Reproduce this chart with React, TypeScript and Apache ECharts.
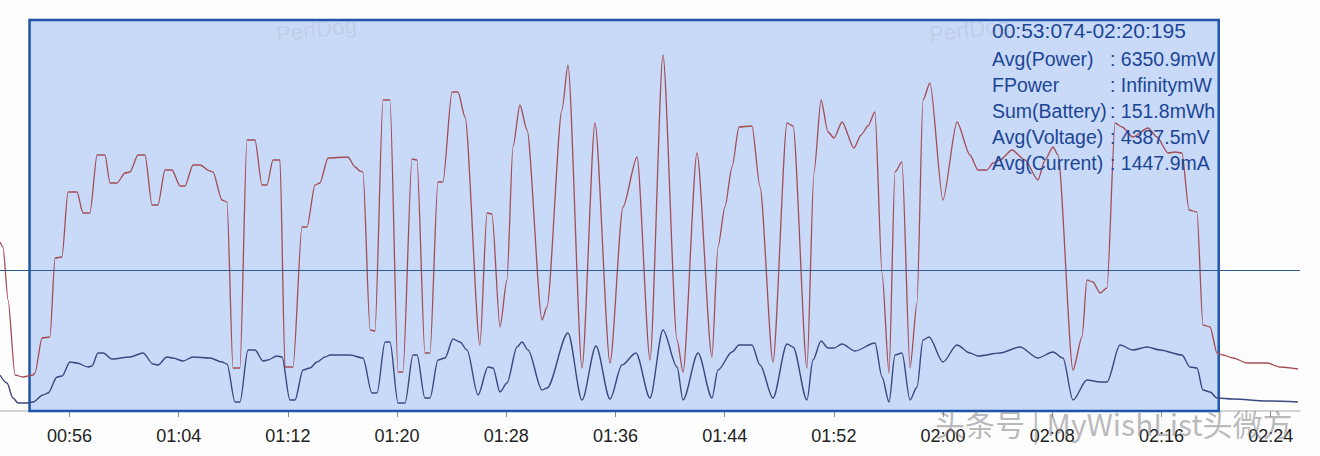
import React, { useEffect, useRef } from "react";
import * as echarts from "echarts";

// time in seconds, power in mW
const powerSeries: [number, number][] = [
  [50.91, 7605], [51.13, 7380], [51.5, 4995], [52.01, 1620], [52.59, 1530], [53.33, 1620],
  [53.47, 1710], [53.99, 3285], [54.57, 3330], [54.94, 6885], [55.45, 6930], [55.89, 9855],
  [56.55, 9855], [56.99, 8910], [57.5, 8910], [58.02, 11520], [58.6, 11520], [58.97, 10260],
  [59.48, 10260], [60.07, 10710], [60.43, 10755], [61.02, 11520], [61.53, 11520], [62.05, 9270],
  [62.48, 9270], [63.0, 10845], [63.51, 10845], [64.1, 10125], [64.46, 10125], [65.05, 11070],
  [65.56, 11070], [66.29, 10800], [66.51, 10755], [67.17, 9495], [67.54, 9405], [67.98, 1935],
  [68.49, 1935], [69.0, 12195], [69.59, 12195], [70.1, 10170], [70.47, 10170], [70.91, 11295],
  [71.42, 11295], [71.79, 1980], [72.38, 1980], [73.03, 8280], [73.4, 8280], [73.99, 10170],
  [74.35, 10260], [74.94, 11385], [76.4, 11430], [76.92, 10980], [77.28, 10800], [77.5, 10755],
  [78.02, 3645], [78.38, 3600], [78.97, 13995], [79.48, 13995], [80.07, 1755], [80.43, 1755],
  [81.09, 11340], [81.46, 11295], [82.04, 2610], [82.41, 2610], [82.99, 10305], [83.36, 10305],
  [84.02, 14355], [84.46, 14355], [84.98, 13230], [86.07, 2970], [86.59, 8910], [86.95, 8865],
  [87.54, 3780], [88.05, 5895], [88.49, 11880], [89.0, 13770], [89.52, 12645], [90.62, 4095],
  [90.98, 4680], [92.08, 13545], [92.52, 15570], [93.55, 1935], [94.5, 12960], [95.6, 2160],
  [96.55, 9180], [97.58, 11430], [98.53, 2295], [99.48, 16020], [100.51, 3195], [100.95, 1755],
  [101.97, 11610], [103.07, 2430], [103.51, 7380], [104.02, 9180], [104.54, 10980], [105.05, 12780],
  [106.0, 12825], [106.59, 10080], [107.54, 2205], [108.57, 12960], [109.01, 12825], [110.03, 1935],
  [110.54, 10710], [111.06, 13995], [111.57, 12555], [112.01, 12285], [112.6, 13005], [113.47, 11835],
  [113.99, 12420], [114.5, 12825], [115.01, 13455], [115.53, 6210], [116.04, 1710], [116.48, 10755],
  [116.99, 11205], [117.58, 1935], [118.09, 4860], [118.53, 13995], [119.04, 14760], [119.99, 9495],
  [121.02, 13005], [121.97, 11520], [122.56, 10845], [123.22, 10845], [123.66, 11160], [124.17, 11295],
  [125.05, 11745], [126.0, 11295], [126.95, 10395], [127.47, 11295], [128.05, 11880], [128.42, 11520],
  [129.52, 1845], [130.18, 3330], [130.54, 5895], [130.98, 5805], [131.5, 5310], [132.01, 5535],
  [132.6, 12960], [133.11, 12780], [133.91, 12330], [135.01, 12735], [135.67, 12330], [136.48, 11610],
  [136.99, 11655], [137.5, 11610], [138.02, 9045], [138.6, 8955], [139.04, 3870], [139.56, 3780],
  [140.07, 2610], [140.51, 2520], [141.24, 2385], [142.27, 2160], [143.73, 2160], [144.68, 1980],
  [146.0, 1890],
];

// time in seconds, current in mA
const currentSeries: [number, number][] = [
  [50.91, 1080], [51.42, 840], [51.86, 390], [52.23, 240], [52.89, 240], [53.33, 270],
  [54.06, 480], [54.43, 540], [55.09, 1020], [55.45, 1050], [56.04, 1470], [56.55, 1440],
  [57.36, 1320], [57.65, 1350], [58.09, 1740], [58.46, 1740], [59.12, 1560], [60.43, 1620],
  [61.39, 1740], [62.12, 1410], [62.48, 1380], [63.14, 1620], [63.58, 1590], [64.32, 1500],
  [65.05, 1620], [66.29, 1590], [67.17, 1470], [67.54, 1410], [68.13, 270], [68.49, 270],
  [69.08, 1830], [69.59, 1830], [70.18, 1500], [70.54, 1530], [71.2, 1650], [71.57, 1620],
  [72.15, 330], [72.52, 330], [73.11, 1230], [73.62, 1290], [74.13, 1470], [74.72, 1620],
  [75.09, 1680], [76.55, 1680], [77.5, 1590], [78.16, 540], [78.53, 540], [79.12, 2070],
  [79.48, 2070], [80.07, 240], [80.58, 240], [81.17, 1680], [81.46, 1680], [82.04, 390],
  [82.41, 390], [83.0, 1530], [83.51, 1590], [84.1, 2160], [84.61, 2070], [85.12, 1830],
  [85.93, 480], [86.66, 1320], [87.03, 1290], [87.54, 570], [88.05, 840], [88.79, 1920],
  [89.15, 2070], [89.59, 1830], [90.62, 630], [90.98, 690], [92.52, 2340], [93.55, 330],
  [94.57, 1950], [95.6, 360], [96.48, 1380], [97.5, 1740], [98.53, 390], [99.48, 2430],
  [100.51, 1320], [100.95, 330], [102.05, 1740], [103.07, 390], [103.51, 1230], [104.54, 1770],
  [105.05, 1980], [106.0, 1980], [106.59, 1380], [107.54, 390], [108.57, 2010], [109.01, 1920],
  [110.03, 330], [110.47, 1530], [111.06, 2100], [111.57, 1890], [112.01, 1890], [112.6, 2010],
  [113.55, 1800], [115.01, 2040], [115.53, 1020], [116.04, 270], [116.48, 1680], [116.99, 1740],
  [117.58, 330], [118.09, 720], [118.53, 2130], [118.97, 2220], [119.99, 1470], [121.02, 1980],
  [121.97, 1740], [122.56, 1650], [124.17, 1740], [125.63, 1920], [126.95, 1590], [128.05, 1770],
  [128.78, 1590], [129.52, 330], [130.54, 930], [131.5, 870], [132.01, 870], [132.96, 1980],
  [133.91, 1830], [134.94, 1920], [135.89, 1830], [137.5, 1680], [138.09, 1320], [138.6, 1290],
  [139.04, 630], [139.56, 570], [140.07, 390], [141.24, 360], [143.73, 300], [146.0, 270],
];

const tickSeconds = [56, 64, 72, 80, 88, 96, 104, 112, 120, 128, 136, 144];
const selectionStart = 53.074;
const selectionEnd = 140.195;
const avgLineValue = 6350.9;

const infoLabels = ["Avg(Power)", "FPower", "Sum(Battery)", "Avg(Voltage)", "Avg(Current)"];
const infoValues = [": 6350.9mW", ": InfinitymW", ": 151.8mWh", ": 4387.5mV", ": 1447.9mA"];
const rangeText = "00:53:074-02:20:195";
const watermarkText = "头条号 | MyWishList头微方";

const pad = (n: number) => String(n).padStart(2, "0");
const fmt = (v: number) => `${pad(Math.floor(v / 60))}:${pad(Math.round(v % 60))}`;

export default function App() {
  const ref = useRef<HTMLDivElement>(null);
  useEffect(() => {
    if (!ref.current) return;
    const chart = echarts.init(ref.current, null, { renderer: "svg" });
    const font = "'Liberation Sans', Arial, Helvetica, sans-serif";
    const textColor = "#1d4596";
    const graphics: any[] = [
      {
        type: "text", left: 992, top: 20, z: 100,
        style: { text: rangeText, fill: textColor, font: `21px ${font}` },
      },
    ];
    infoLabels.forEach((l, i) => {
      graphics.push({
        type: "text", left: 992, top: 49 + i * 26, z: 100,
        style: { text: l, fill: textColor, font: `19.5px ${font}` },
      });
      graphics.push({
        type: "text", left: 1110, top: 49 + i * 26, z: 100,
        style: { text: infoValues[i], fill: textColor, font: `19.5px ${font}` },
      });
    });
    graphics.push({
      type: "text", left: 275, top: 14, rotation: 0.12, z: 100,
      style: { text: "PerfDog", fill: "rgba(160,160,170,0.22)", font: `22px ${font}` },
    });
    graphics.push({
      type: "text", left: 928, top: 14, rotation: 0.12, z: 100,
      style: { text: "PerfDog", fill: "rgba(160,160,170,0.22)", font: `22px ${font}` },
    });
    graphics.push({
      type: "text", left: 935, top: 408, z: 100,
      style: { text: watermarkText, fill: "rgba(120,120,125,0.5)", font: `30px 'Noto Sans CJK SC', sans-serif` },
    });

    chart.setOption({
      animation: false,
      backgroundColor: "#fdfdfd",
      grid: { left: 0, right: 20, top: 20, bottom: 45, containLabel: false, outerBoundsMode: "none" },
      xAxis: {
        type: "value",
        min: 50.91,
        max: 146.15,
        splitLine: { show: false },
        axisLine: { show: true, lineStyle: { color: "#c4c4c4", width: 1.5 } },
        axisTick: {
          show: true, customValues: tickSeconds, length: 6, inside: false,
          lineStyle: { color: "#8a8a8a" },
        },
        axisLabel: {
          customValues: tickSeconds, formatter: (v: number) => fmt(v),
          color: "#222", fontSize: 18, margin: 16, fontFamily: font,
        },
      },
      yAxis: [
        { type: "value", min: 0, max: 17595, show: false, splitLine: { show: false } },
        { type: "value", min: 0, max: 11730, show: false, splitLine: { show: false } },
      ],
      series: [
        {
          name: "Power", type: "line", data: powerSeries, yAxisIndex: 0, symbol: "none",
          smooth: 0.25, smoothMonotone: "x",
          lineStyle: { color: "#a44c55", width: 1.3 }, z: 2,
          markLine: {
            silent: true, symbol: "none", label: { show: false },
            lineStyle: { color: "#2d5a8c", width: 1, type: "solid" },
            data: [{ yAxis: avgLineValue }],
          },
        },
        {
          name: "Current", type: "line", data: currentSeries, yAxisIndex: 1, symbol: "none",
          smooth: 0.3, smoothMonotone: "x",
          lineStyle: { color: "#3d4680", width: 1.4 }, z: 2,
        },
        {
          name: "Selection", type: "line", data: [], yAxisIndex: 0, symbol: "none", z: 10,
          markArea: {
            silent: true,
            itemStyle: { color: "rgba(80,140,235,0.3)", borderColor: "#1f55a8", borderWidth: 2.5 },
            data: [[{ xAxis: selectionStart }, { xAxis: selectionEnd }]],
          },
        },
      ],
      graphic: graphics,
    });
    return () => chart.dispose();
  }, []);
  return (
    <div
      ref={ref}
      style={{ position: "fixed", left: 0, top: 0, width: 1320, height: 456 }}
    />
  );
}
